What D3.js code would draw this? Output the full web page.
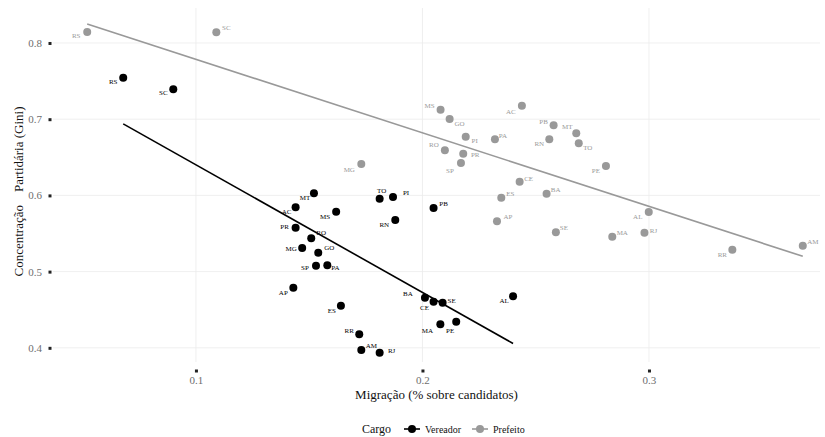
<!DOCTYPE html>
<html>
<head>
<meta charset="utf-8">
<script src="https://cdn.jsdelivr.net/npm/d3@7"></script>
<style>
  body { margin: 0; background: #fff; }
  text { font-family: "Liberation Serif", "DejaVu Serif", serif; }
</style>
</head>
<body>
<div id="chart"></div>
<script>
// states, in the same order for both series
var vereadorUF = ['RS','SC','MT','AC','MS','TO','PI','PB','RN','PR','RO','MG','GO','SP','PA','AP','ES','RR','AM','RJ','BA','CE','SE','MA','PE','AL'];
var vereadorMig = [0.0679,0.0900,0.1521,0.1440,0.1619,0.1811,0.1870,0.2049,0.1880,0.1440,0.1509,0.1469,0.1540,0.1530,0.1580,0.1430,0.1640,0.1721,0.1730,0.1811,0.2011,0.2049,0.2089,0.2079,0.2149,0.2400];
var vereadorGini = [0.7545,0.7392,0.6027,0.5844,0.5786,0.5957,0.5979,0.5835,0.5677,0.5576,0.5437,0.5310,0.5248,0.5077,0.5082,0.4789,0.4553,0.4177,0.3971,0.3936,0.4658,0.4605,0.4592,0.4308,0.4343,0.4676];

var prefeitoUF = ['RS','SC','MG','MS','GO','PI','RO','PR','SP','PA','AC','PB','RN','MT','TO','PE','CE','ES','BA','AP','SE','MA','AL','RJ','RR','AM'];
var prefeitoMig = [0.0520,0.1090,0.1730,0.2080,0.2120,0.2191,0.2099,0.2180,0.2170,0.2320,0.2439,0.2579,0.2560,0.2679,0.2690,0.2810,0.2429,0.2348,0.2548,0.2329,0.2589,0.2838,0.2999,0.2980,0.3368,0.3679];
var prefeitoGini = [0.8144,0.8140,0.6412,0.7125,0.7003,0.6770,0.6592,0.6548,0.6425,0.6736,0.7177,0.6920,0.6736,0.6815,0.6684,0.6386,0.6180,0.5970,0.6022,0.5660,0.5516,0.5458,0.5782,0.5511,0.5287,0.5340];

var xTicks = [0.1, 0.2, 0.3];
var yTicks = [0.4, 0.5, 0.6, 0.7, 0.8];
var cargos = ['Vereador', 'Prefeito'];

// label nudges (px) so the labels sit like in the original
var nudgeV = {RS:[-10,4],SC:[-10,4],MT:[-9,5],AC:[-9,5],MS:[-11,5],TO:[2,-8],PI:[13,-4],PB:[10,-4],RN:[-11,5],PR:[-11,-1],RO:[10,-5],MG:[-11,1],GO:[11,-5],SP:[-11,2],PA:[8,3],AP:[-10,5],ES:[-9,5],RR:[-10,-3],AM:[10,-4],RJ:[12,-2],BA:[-17,-4],CE:[-9,6],SE:[9,-2],MA:[-13,7],PE:[-6,9],AL:[-9,5]};
var nudgeP = {RS:[-11,4],SC:[10,-4],MG:[-12,6],MS:[-11,-4],GO:[10,5],PI:[9,4],RO:[-11,-5],PR:[12,1],SP:[-11,8],PA:[8,-3],AC:[-11,6],PB:[-10,-3],RN:[-10,5],MT:[-9,-6],TO:[9,5],PE:[-10,5],CE:[9,-3],ES:[9,-4],BA:[9,-4],AP:[11,-4],SE:[8,-4],MA:[10,-4],AL:[-11,5],RJ:[9,-2],RR:[-10,5],AM:[10,-4]};

var W = 825, H = 437;
var panel = {left: 53, right: 820, top: 8, bottom: 362};
var colors = {Vereador: '#000000', Prefeito: '#999999'};

var svg = d3.select('#chart').append('svg')
  .attr('width', W)
  .attr('height', H);

var x = d3.scaleLinear().domain([0.0369, 0.3755]).range([panel.left, panel.right]);
var y = d3.scaleLinear().domain([0.3814, 0.8459]).range([panel.bottom, panel.top]);

// grid
svg.append('g').selectAll('line.gy')
  .data(yTicks).enter().append('line')
  .attr('x1', panel.left).attr('x2', panel.right)
  .attr('y1', d => y(d)).attr('y2', d => y(d))
  .attr('stroke', '#ebebeb').attr('stroke-width', 0.8);
svg.append('g').selectAll('line.gx')
  .data(xTicks).enter().append('line')
  .attr('y1', panel.top).attr('y2', panel.bottom)
  .attr('x1', d => x(d)).attr('x2', d => x(d))
  .attr('stroke', '#ebebeb').attr('stroke-width', 0.8);

// axes: tiny square ticks, grey labels
var yAxis = d3.axisLeft(y).tickValues(yTicks).tickSize(0).tickPadding(8).tickFormat(d3.format('.1f'));
var gy = svg.append('g').attr('transform', 'translate(' + (panel.left - 3) + ',0)').call(yAxis);
gy.select('.domain').remove();
gy.selectAll('.tick text').attr('fill', '#6e6e6e').style('font-size', '11px');
gy.selectAll('.tick').append('rect').attr('x', -1.5).attr('y', -1.5).attr('width', 3).attr('height', 3).attr('fill', '#222');

var xAxis = d3.axisBottom(x).tickValues(xTicks).tickSize(0).tickPadding(5).tickFormat(d3.format('.1f'));
var gx = svg.append('g').attr('transform', 'translate(0,371)').call(xAxis);
gx.select('.domain').remove();
gx.selectAll('.tick text').attr('fill', '#6e6e6e').style('font-size', '11px');
gx.selectAll('.tick').append('rect').attr('x', -1.5).attr('y', -1.5).attr('width', 3).attr('height', 3).attr('fill', '#222');

// axis titles
svg.append('text')
  .attr('x', (panel.left + panel.right) / 2 + 0)
  .attr('y', 399)
  .attr('text-anchor', 'middle')
  .style('font-size', '13px')
  .attr('fill', '#111')
  .text('Migração (% sobre candidatos)');

var yt = svg.append('text')
  .attr('transform', 'translate(23,191.5) rotate(-90)')
  .attr('text-anchor', 'middle')
  .style('font-size', '13px')
  .attr('fill', '#111');
yt.append('tspan').text('Concentração');
yt.append('tspan').attr('dx', 13).text('Partidária (Gini)');

// series
function series(name, ufs, mig, gini, nudge) {
  var rows = ufs.map((uf, i) => ({uf: uf, x: mig[i], y: gini[i]}));
  var col = colors[name];

  // linear fit (like geom_smooth(method = "lm"))
  var mx = d3.mean(rows, d => d.x), my = d3.mean(rows, d => d.y);
  var b = d3.sum(rows, d => (d.x - mx) * (d.y - my)) / d3.sum(rows, d => (d.x - mx) * (d.x - mx));
  var a = my - b * mx;
  var ext = d3.extent(rows, d => d.x);
  var fit = ext.map(v => ({x: v, y: a + b * v}));

  var g = svg.append('g');
  g.append('path')
    .datum(fit)
    .attr('d', d3.line().x(d => x(d.x)).y(d => y(d.y)))
    .attr('fill', 'none')
    .attr('stroke', col)
    .attr('stroke-width', 1.6);

  g.selectAll('circle')
    .data(rows).enter().append('circle')
    .attr('cx', d => x(d.x))
    .attr('cy', d => y(d.y))
    .attr('r', 4)
    .attr('fill', col);

  g.selectAll('text')
    .data(rows).enter().append('text')
    .attr('x', d => x(d.x) + nudge[d.uf][0])
    .attr('y', d => y(d.y) + nudge[d.uf][1])
    .attr('text-anchor', 'middle')
    .attr('dominant-baseline', 'central')
    .style('font-size', '7px')
    .attr('fill', name == 'Vereador' ? '#000' : '#9a9a9a')
    .text(d => d.uf);
}

series('Prefeito', prefeitoUF, prefeitoMig, prefeitoGini, nudgeP);
series('Vereador', vereadorUF, vereadorMig, vereadorGini, nudgeV);

// legend
var lg = svg.append('g').attr('transform', 'translate(0,429)');
lg.append('text').attr('x', 362).attr('y', 0).attr('dominant-baseline', 'central')
  .style('font-size', '12px').attr('fill', '#111').text('Cargo');
var keyX = {Vereador: 404, Prefeito: 472};
cargos.forEach(function(c) {
  var kx = keyX[c];
  lg.append('line').attr('x1', kx).attr('x2', kx + 16).attr('y1', 0).attr('y2', 0)
    .attr('stroke', colors[c]).attr('stroke-width', 1.6);
  lg.append('circle').attr('cx', kx + 8).attr('cy', 0).attr('r', 4).attr('fill', colors[c]);
  lg.append('text').attr('x', kx + 21).attr('y', 0).attr('dominant-baseline', 'central')
    .style('font-size', '10px').attr('fill', '#111').text(c);
});
</script>
</body>
</html>
